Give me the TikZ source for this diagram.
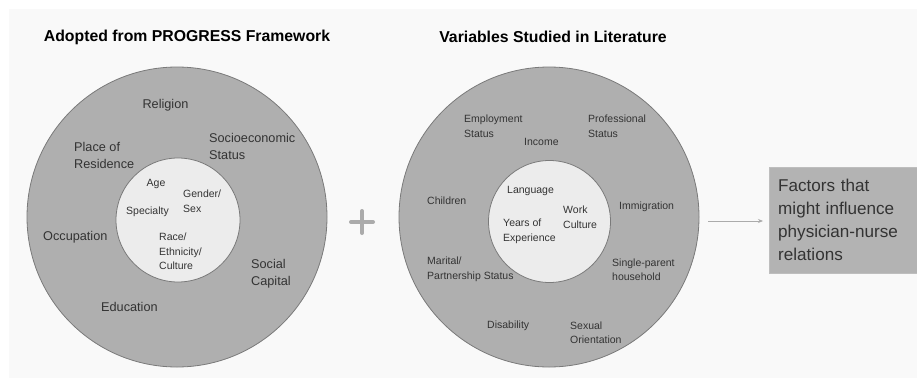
\documentclass[tikz,border=0pt]{standalone}
\usepackage{fontspec}
\setmainfont{Liberation Sans}
\usetikzlibrary{arrows.meta}
\definecolor{bgpanel}{HTML}{F9F9F9}
\definecolor{outerfill}{HTML}{AFAFAF}
\definecolor{innerfill}{HTML}{ECECEC}
\definecolor{ringline}{HTML}{7A7A7A}
\definecolor{txt}{HTML}{333333}
\definecolor{boxfill}{HTML}{B3B3B3}
\definecolor{plusgray}{HTML}{ABABAB}
\tikzset{
  outerc/.style={circle, fill=outerfill, draw=ringline, line width=0.8pt, inner sep=0pt},
  innerc/.style={circle, fill=innerfill, draw=ringline, line width=0.8pt, inner sep=0pt},
  big/.style={anchor=west, align=left, inner sep=0pt, text=txt, font=\fontsize{12.7}{17}\selectfont},
  small/.style={anchor=west, align=left, inner sep=0pt, text=txt, font=\fontsize{10.5}{14.5}\selectfont},
  title/.style={inner sep=0pt, text=black, font=\fontsize{15.8}{18}\selectfont\bfseries},
}
\begin{document}
\begin{tikzpicture}[x=1pt,y=-1pt]
\useasboundingbox (0,0) rectangle (917,380);
\fill[white] (0,0) rectangle (917,380);
\fill[bgpanel] (9,9) rectangle (917,378);

% titles
\node[title] (t1) at (187,37) {Adopted from PROGRESS Framework};
\node[title] (t2) at (553,37) {Variables Studied in Literature};

% left circles
\node[outerc, minimum size=300pt] (lo) at (177,217) {};
\node[innerc, minimum size=124pt] (li) at (178,220) {};

\node[big, anchor=center] (rel) at (165.5,105) {Religion};
\node[big] (ses) at (209,146) {Socioeconomic\\Status};
\node[big] (por) at (74,155.5) {Place of\\Residence};
\node[big] (occ) at (43,237) {Occupation};
\node[big] (soc) at (251,273.5) {Social\\Capital};
\node[big] (edu) at (101,307) {Education};

\node[small, anchor=center] (age) at (156,184) {Age};
\node[small] (gen) at (183,201) {Gender/\\Sex};
\node[small] (spe) at (126,212) {Specialty};
\node[small] (rac) at (159,251.5) {Race/\\Ethnicity/\\Culture};

% plus
\draw[plusgray, line width=4pt, line cap=round] (351,222) -- (373,222) (362,211) -- (362,233);

% right circles
\node[outerc, minimum size=300pt] (ro) at (549,217) {};
\node[innerc, minimum size=122pt] (ri) at (549.5,221.5) {};

\node[small] (emp) at (464,126) {Employment\\Status};
\node[small] (inc) at (524,142) {Income};
\node[small] (pro) at (588,126) {Professional\\Status};
\node[small] (chi) at (427,201) {Children};
\node[small] (lan) at (507,191) {Language};
\node[small] (wor) at (563,217) {Work\\Culture};
\node[small] (yea) at (503,231.5) {Years of\\Experience};
\node[small] (imm) at (619,207) {Immigration};
\node[small] (mar) at (427,269.5) {Marital/\\Partnership Status};
\node[small] (sin) at (612,269.5) {Single-parent\\household};
\node[small] (dis) at (487,326) {Disability};
\node[small] (sex) at (570,332.5) {Sexual\\Orientation};

% result box
\node[anchor=north west, fill=boxfill, draw=boxfill!85!white, minimum width=150pt, minimum height=106pt,
      text width=132pt, inner xsep=9pt, inner ysep=0pt, align=left, text=txt,
      font=\fontsize{17.1}{23}\selectfont] (box) at (769,167)
      {Factors that\\might influence\\physician-nurse\\relations};

\coordinate (astart) at (708,221);
\draw[plusgray, line width=0.8pt, -{Stealth[length=5pt,width=4pt]}, shorten >=6pt] (astart) -- (box.west |- astart);
\end{tikzpicture}
\end{document}
